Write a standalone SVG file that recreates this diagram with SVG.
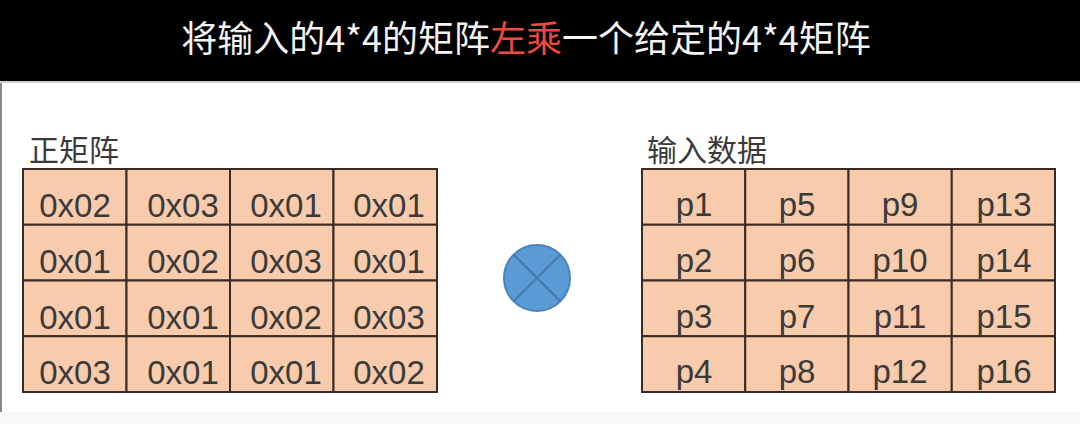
<svg xmlns="http://www.w3.org/2000/svg" width="1080" height="424" viewBox="0 0 1080 424">
<style>
.cell{fill:#f8cbad;stroke:#3b2b22;stroke-width:2}
.v{font-family:"Liberation Sans",Arial,sans-serif;font-size:33px;fill:#3a3a3a;text-anchor:middle}
.lbl{font-family:"Noto Sans CJK SC","Noto Sans",sans-serif;font-size:30px;fill:#3a3a3a}
.title{font-family:"Noto Sans CJK SC","Noto Sans",sans-serif;font-size:36px;fill:#f4f4f4;text-anchor:middle}
</style>
<rect x="0" y="0" width="1080" height="424" fill="#ffffff"/>
<rect x="0" y="0" width="1080" height="81" fill="#000000"/>
<rect x="0" y="81" width="1080" height="2" fill="#d0d0d0"/>
<rect x="0" y="83" width="2" height="341" fill="#8a8a8a"/>
<rect x="0" y="412" width="1080" height="12" fill="#f8f8f8"/>
<g id="title">
<text class="title" x="526" y="52">将输入的4*4的矩阵<tspan fill="#ee4a3e">左乘</tspan>一个给定的4*4矩阵</text>
</g>
<g id="label-left"><text class="lbl" x="29" y="161">正矩阵</text></g>
<g id="label-right"><text class="lbl" x="647" y="161">输入数据</text></g>
<g id="matrix-left">
<rect class="cell" x="23" y="169" width="103.5" height="55.75"/>
<rect class="cell" x="126.5" y="169" width="103.5" height="55.75"/>
<rect class="cell" x="230" y="169" width="103.5" height="55.75"/>
<rect class="cell" x="333.5" y="169" width="103.5" height="55.75"/>
<rect class="cell" x="23" y="224.75" width="103.5" height="55.75"/>
<rect class="cell" x="126.5" y="224.75" width="103.5" height="55.75"/>
<rect class="cell" x="230" y="224.75" width="103.5" height="55.75"/>
<rect class="cell" x="333.5" y="224.75" width="103.5" height="55.75"/>
<rect class="cell" x="23" y="280.5" width="103.5" height="55.75"/>
<rect class="cell" x="126.5" y="280.5" width="103.5" height="55.75"/>
<rect class="cell" x="230" y="280.5" width="103.5" height="55.75"/>
<rect class="cell" x="333.5" y="280.5" width="103.5" height="55.75"/>
<rect class="cell" x="23" y="336.25" width="103.5" height="55.75"/>
<rect class="cell" x="126.5" y="336.25" width="103.5" height="55.75"/>
<rect class="cell" x="230" y="336.25" width="103.5" height="55.75"/>
<rect class="cell" x="333.5" y="336.25" width="103.5" height="55.75"/>
<text class="v" x="75" y="217">0x02</text><text class="v" x="183" y="217">0x03</text><text class="v" x="286" y="217">0x01</text><text class="v" x="389" y="217">0x01</text>
<text class="v" x="75" y="273">0x01</text><text class="v" x="183" y="273">0x02</text><text class="v" x="286" y="273">0x03</text><text class="v" x="389" y="273">0x01</text>
<text class="v" x="75" y="329">0x01</text><text class="v" x="183" y="329">0x01</text><text class="v" x="286" y="329">0x02</text><text class="v" x="389" y="329">0x03</text>
<text class="v" x="75" y="384">0x03</text><text class="v" x="183" y="384">0x01</text><text class="v" x="286" y="384">0x01</text><text class="v" x="389" y="384">0x02</text>
</g>
<g id="multiply">
<circle cx="537" cy="278" r="33" fill="#5b9bd5" stroke="#4a84bd" stroke-width="2"/>
<path d="M513.7 254.7 L560.3 301.3 M560.3 254.7 L513.7 301.3" stroke="#4677a8" stroke-width="2" fill="none"/>
</g>
<g id="matrix-right">
<rect class="cell" x="642" y="169" width="103.25" height="55.75"/>
<rect class="cell" x="745.25" y="169" width="103.25" height="55.75"/>
<rect class="cell" x="848.5" y="169" width="103.25" height="55.75"/>
<rect class="cell" x="951.75" y="169" width="103.25" height="55.75"/>
<rect class="cell" x="642" y="224.75" width="103.25" height="55.75"/>
<rect class="cell" x="745.25" y="224.75" width="103.25" height="55.75"/>
<rect class="cell" x="848.5" y="224.75" width="103.25" height="55.75"/>
<rect class="cell" x="951.75" y="224.75" width="103.25" height="55.75"/>
<rect class="cell" x="642" y="280.5" width="103.25" height="55.75"/>
<rect class="cell" x="745.25" y="280.5" width="103.25" height="55.75"/>
<rect class="cell" x="848.5" y="280.5" width="103.25" height="55.75"/>
<rect class="cell" x="951.75" y="280.5" width="103.25" height="55.75"/>
<rect class="cell" x="642" y="336.25" width="103.25" height="55.75"/>
<rect class="cell" x="745.25" y="336.25" width="103.25" height="55.75"/>
<rect class="cell" x="848.5" y="336.25" width="103.25" height="55.75"/>
<rect class="cell" x="951.75" y="336.25" width="103.25" height="55.75"/>
<text class="v" x="694" y="216">p1</text><text class="v" x="797" y="216">p5</text><text class="v" x="900" y="216">p9</text><text class="v" x="1004" y="216">p13</text>
<text class="v" x="694" y="272">p2</text><text class="v" x="797" y="272">p6</text><text class="v" x="900" y="272">p10</text><text class="v" x="1004" y="272">p14</text>
<text class="v" x="694" y="328">p3</text><text class="v" x="797" y="328">p7</text><text class="v" x="900" y="328">p11</text><text class="v" x="1004" y="328">p15</text>
<text class="v" x="694" y="383">p4</text><text class="v" x="797" y="383">p8</text><text class="v" x="900" y="383">p12</text><text class="v" x="1004" y="383">p16</text>
</g>
</svg>
